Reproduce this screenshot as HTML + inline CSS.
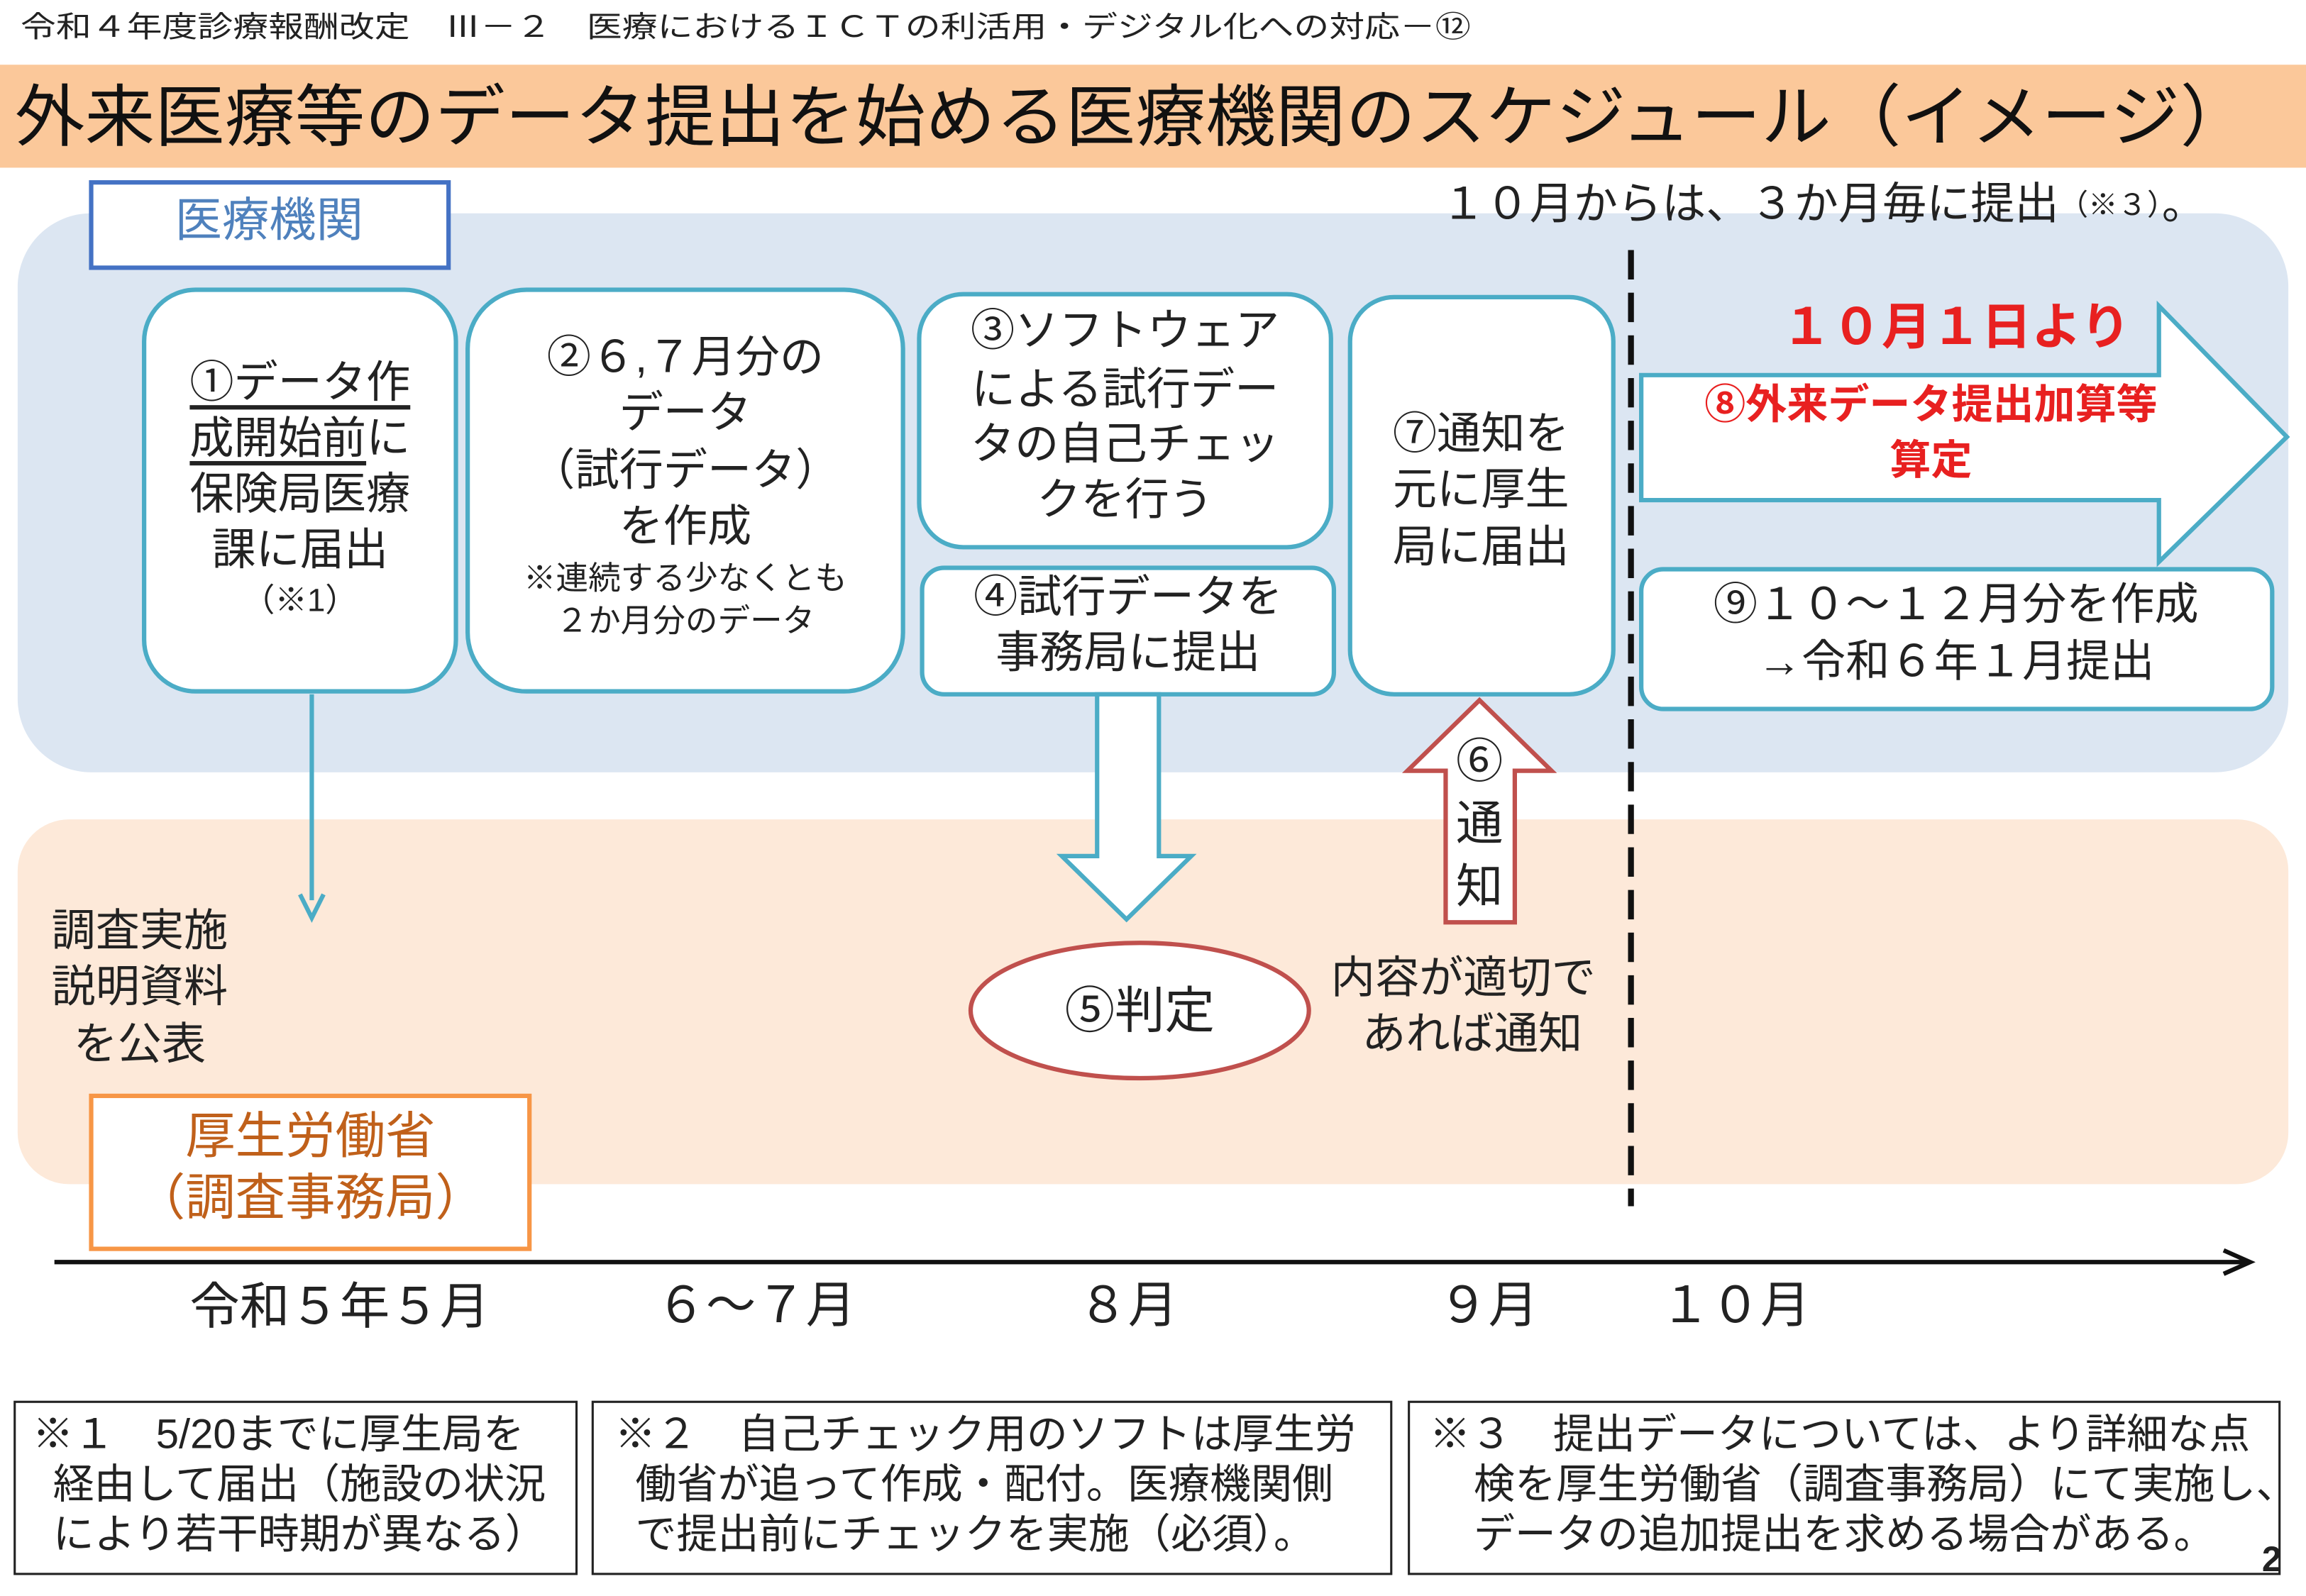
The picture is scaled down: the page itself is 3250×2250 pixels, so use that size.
<!DOCTYPE html>
<html><head><meta charset="utf-8"><style>
html,body{margin:0;padding:0;background:#fff}
svg{display:block}
text{font-family:"Liberation Sans","Noto Sans CJK JP",sans-serif;dominant-baseline:central}
</style></head><body>
<svg width="3250" height="2250" viewBox="0 0 1568 1085" preserveAspectRatio="none" xmlns="http://www.w3.org/2000/svg" fill="#222">
<rect width="1568" height="1085" fill="#fff"/>
<text x="14" y="18" font-size="20" textLength="986" lengthAdjust="spacingAndGlyphs">令和４年度診療報酬改定　Ⅲ－２　医療におけるＩＣＴの利活用・デジタル化への対応－⑫</text>
<rect x="0" y="44" width="1568" height="70" fill="#fbc89a"/>
<text x="10" y="80" font-size="46" fill="#111" textLength="1520" lengthAdjust="spacingAndGlyphs">外来医療等のデータ提出を始める医療機関のスケジュール（イメージ）</text>

<rect x="12" y="145" width="1544" height="380" rx="50" fill="#dce6f2"/>
<rect x="12" y="557" width="1544" height="248" rx="35" fill="#fde9d9"/>

<rect x="62" y="124" width="243" height="58" fill="#fff" stroke="#4472c4" stroke-width="3"/>
<text x="183" y="150" font-size="32" fill="#4f81bd" text-anchor="middle">医療機関</text>

<text x="980" y="139" font-size="30">１０月からは、３か月毎に提出<tspan font-size="20">（※３）</tspan>。</text>

<line x1="1109" y1="170" x2="1109" y2="820" stroke="#111" stroke-width="4" stroke-dasharray="20,9"/>

<g fill="#fff" stroke="#4bacc6" stroke-width="3">
<rect x="98" y="197" width="212" height="273" rx="35"/>
<rect x="318" y="197" width="296" height="273" rx="40"/>
<rect x="625" y="200" width="280" height="172" rx="30"/>
<rect x="627" y="386" width="280" height="86" rx="15"/>
<rect x="918" y="202" width="179" height="270" rx="30"/>
<rect x="1116" y="387" width="429" height="95" rx="15"/>
<path d="M1116 255 H1468 V208 L1555 297 L1468 382 V340 H1116 Z"/>
<path d="M746 472 H788 V582 H810 L766 625 L722 582 H746 Z"/>
</g>

<g font-size="30" text-anchor="middle">
<text x="204" y="260"><tspan text-decoration="underline">①データ作</tspan></text>
<text x="204" y="298"><tspan text-decoration="underline">成開始前</tspan>に</text>
<text x="204" y="336">保険局医療</text>
<text x="204" y="374">課に届出</text>
<text x="204" y="408" font-size="22">（※1）</text>

<text x="466" y="243">②６,７月分の</text>
<text x="466" y="281">データ</text>
<text x="466" y="320">（試行データ）</text>
<text x="466" y="358">を作成</text>
<text x="466" y="393" font-size="22">※連続する少なくとも</text>
<text x="466" y="422" font-size="22">２か月分のデータ</text>

<text x="765" y="225">③ソフトウェア</text>
<text x="765" y="265">による試行デー</text>
<text x="765" y="302">タの自己チェッ</text>
<text x="765" y="340">クを行う</text>

<text x="767" y="406">④試行データを</text>
<text x="767" y="444">事務局に提出</text>

<text x="1007" y="295">⑦通知を</text>
<text x="1007" y="333">元に厚生</text>
<text x="1007" y="372">局に届出</text>

<text x="1330" y="411">⑨１０～１２月分を作成</text>
<text x="1330" y="450">→令和６年１月提出</text>
</g>

<g text-anchor="middle" font-weight="bold" fill="#e82020">
<text x="1330" y="222" font-size="34">１０月１日より</text>
<text x="1313" y="275" font-size="28">⑧外来データ提出加算等</text>
<text x="1313" y="313" font-size="28">算定</text>
</g>

<line x1="212" y1="472" x2="212" y2="612" stroke="#4bacc6" stroke-width="3"/>
<path d="M204 608 L212 624 L220 608" fill="none" stroke="#4bacc6" stroke-width="3"/>

<ellipse cx="775" cy="687" rx="115" ry="46" fill="#fff" stroke="#c0504d" stroke-width="3"/>
<text x="775" y="687" font-size="34" text-anchor="middle">⑤判定</text>

<path d="M1006 476 L1055 524 H1030 V627 H983 V524 H957 Z" fill="#fff" stroke="#c0504d" stroke-width="3"/>
<g font-size="32" text-anchor="middle">
<text x="1006" y="518">⑥</text>
<text x="1006" y="560">通</text>
<text x="1006" y="603">知</text>
</g>

<g font-size="30">
<text x="905" y="665">内容が適切で</text>
<text x="1001" y="703" text-anchor="middle">あれば通知</text>
<text x="35" y="633">調査実施</text>
<text x="35" y="671">説明資料</text>
<text x="50" y="710">を公表</text>
</g>

<rect x="62" y="745" width="298" height="104" fill="#fff" stroke="#f79646" stroke-width="3"/>
<text x="211" y="772" font-size="34" text-anchor="middle" fill="#c0601a">厚生労働省</text>
<text x="211" y="814" font-size="34" text-anchor="middle" fill="#c0601a">（調査事務局）</text>

<line x1="37" y1="858" x2="1528" y2="858" stroke="#111" stroke-width="3"/>
<path d="M1512 850 L1530 858 L1512 866" fill="none" stroke="#111" stroke-width="3"/>
<g font-size="34" text-anchor="middle">
<text x="231" y="888">令和５年５月</text>
<text x="514" y="887">６～７月</text>
<text x="767" y="887">８月</text>
<text x="1012" y="887">９月</text>
<text x="1180" y="887">１０月</text>
</g>

<g fill="none" stroke="#222" stroke-width="1.5">
<rect x="10" y="953" width="382" height="117"/>
<rect x="403" y="953" width="543" height="117"/>
<rect x="958" y="953" width="592" height="117"/>
</g>
<g font-size="28">
<text x="22" y="975">※１　5/20までに厚生局を</text>
<text x="36" y="1009">経由して届出（施設の状況</text>
<text x="36" y="1043">により若干時期が異なる）</text>
<text x="418" y="975">※２　自己チェック用のソフトは厚生労</text>
<text x="432" y="1009">働省が追って作成・配付。医療機関側</text>
<text x="432" y="1043">で提出前にチェックを実施（必須）。</text>
<text x="972" y="975">※３　提出データについては、より詳細な点</text>
<text x="1002" y="1009">検を厚生労働省（調査事務局）にて実施し、</text>
<text x="1002" y="1043">データの追加提出を求める場合がある。</text>
</g>
<text x="1538" y="1060" font-size="24" font-weight="bold">2</text>
</svg>
</body></html>
